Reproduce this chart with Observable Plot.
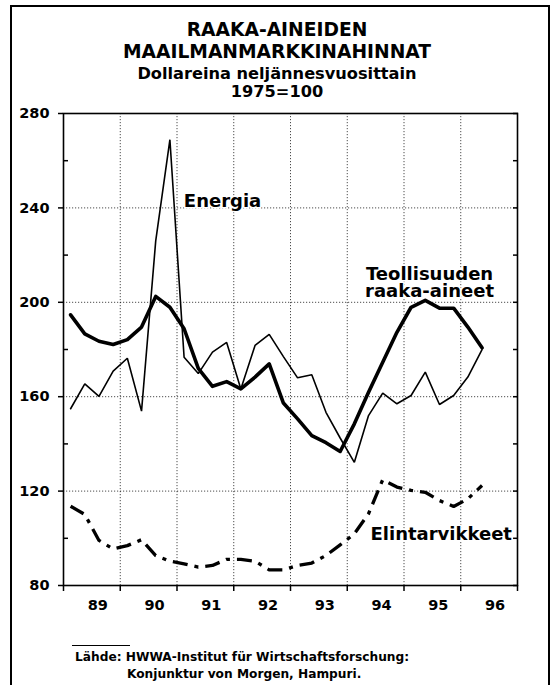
<!DOCTYPE html>
<html><head><meta charset="utf-8">
<script src="https://cdn.jsdelivr.net/npm/d3@7"></script>
<script src="https://cdn.jsdelivr.net/npm/@observablehq/plot@0.6"></script>
<style>
body{margin:0;background:#fff;font-family:"DejaVu Sans",sans-serif;font-weight:bold;color:#000}
#wrap{position:relative;width:558px;height:685px;overflow:hidden;background:#fff}
#border{position:absolute;left:10px;top:5px;width:540px;height:720px;border:2px solid #000;box-sizing:border-box;z-index:5;pointer-events:none}
.t{position:absolute;left:0;width:554px;text-align:center;white-space:nowrap}
.c{position:absolute;line-height:1;white-space:nowrap;font-size:12.2px}
#chart{position:absolute;left:0;top:100px}
#rule{position:absolute;left:72px;top:645px;width:58px;border-top:1.5px solid #000}
</style></head><body>
<div id="wrap">
<div class="t" style="top:19.4px;font-size:18.7px;line-height:22px">RAAKA-AINEIDEN<br>MAAILMANMARKKINAHINNAT</div>
<div class="t" style="top:65.3px;font-size:16.2px;line-height:18px">Dollareina neljännesvuosittain<br>1975=100</div>
<div id="chart"></div>
<div id="rule"></div>
<div class="c" style="left:75px;top:651px">Lähde: HWWA-Institut für Wirtschaftsforschung:</div>
<div class="c" style="left:127px;top:668px">Konjunktur von Morgen, Hampuri.</div>
<div id="border"></div>
</div>
<script>
const quarters = ["1989Q1","1989Q2","1989Q3","1989Q4","1990Q1","1990Q2","1990Q3","1990Q4",
  "1991Q1","1991Q2","1991Q3","1991Q4","1992Q1","1992Q2","1992Q3","1992Q4",
  "1993Q1","1993Q2","1993Q3","1993Q4","1994Q1","1994Q2","1994Q3","1994Q4",
  "1995Q1","1995Q2","1995Q3","1995Q4","1996Q1","1996Q2"];
const energia = [154.9,165.4,160.1,170.8,176.3,153.9,226,268.9,176.7,169.8,178.9,183,163.3,181.7,186.4,177,168,169.3,153.4,142.5,132.2,152,161.5,157,160.5,170.4,156.7,160.5,168.3,179.9];
const teollisuus = [194.7,186.6,183.5,182.1,184.2,189.5,202.5,197.9,188.8,172,164.4,166.4,163.3,168.3,173.9,157.3,150.6,143.5,140.5,136.8,148.5,161.9,174.6,187.3,197.9,200.8,197.5,197.5,189.5,180.7];
const elintarvikkeet = [113.6,110.1,99.1,95.5,96.9,99.4,92.7,90.3,89.2,87.8,88.5,91.1,91.1,90.3,86.6,86.6,88.5,89.5,92.7,97.2,101.9,110.4,124.8,121.7,120.3,119.5,116,113.5,116.7,122.4];
const yearLabels = ["89","90","91","92","93","94","95","96"];
const yTicks = [80,120,160,200,240,280];
const yMinor = [100,140,180,220,260];
const yAll = [80,100,120,140,160,180,200,220,240,260,280];
const gridY = [120,160,200,240];
const centeredLabels = [
  {label:"Energia", q:11.21, v:242.8},
  {label:"Teollisuuden\nraaka-aineet", q:25.8, v:208.1}
];
const startLabels = [
  {label:"Elintarvikkeet", q:21.64, v:101.7}
];

const pos = s => (+s.slice(0,4) - 1989) * 4 + (+s.slice(5) - 1) + 0.5;
const rows = (vals) => quarters.map((q,i) => ({x: pos(q), y: vals[i]}));
const yearBounds = d3.range(yearLabels.length + 1).map(i => i * 4);
const innerBounds = yearBounds.slice(1, -1);

const chart = Plot.plot({
  width: 558, height: 520,
  marginLeft: 63, marginRight: 41, marginTop: 13, marginBottom: 35,
  x: {domain: [0, 32], axis: null},
  y: {domain: [80, 280], axis: null},
  style: {fontFamily: "DejaVu Sans", fontWeight: "bold", fontSize: "14.5px", color: "#000", background: "transparent", overflow: "visible"},
  marks: [
    Plot.ruleY(gridY, {stroke: "#000", strokeOpacity: 0.7, strokeDasharray: "1.2,1.8", strokeWidth: 1}),
    Plot.ruleX(innerBounds, {stroke: "#000", strokeOpacity: 0.7, strokeDasharray: "1.2,1.8", strokeWidth: 1}),
    Plot.axisY(yTicks, {anchor: "left", tickSize: 5, tickPadding: 9, label: null, strokeWidth: 1.5, fontSize: 14.5}),
    Plot.axisY(yMinor, {anchor: "left", tickSize: 5, dx: 5, tickFormat: () => "", label: null, strokeWidth: 1.5}),
    Plot.axisY(yAll, {anchor: "right", tickSize: 5, dx: -5, tickFormat: () => "", label: null, strokeWidth: 1.5}),
    Plot.axisX(yearBounds, {anchor: "bottom", tickSize: 6, tickFormat: () => "", label: null, strokeWidth: 1.5}),
    Plot.text(yearLabels, {x: (d, i) => i * 4 + 2, frameAnchor: "bottom", dy: 24, dx: 6, text: d => d, fontSize: 14.5}),
    Plot.frame({stroke: "#000", strokeWidth: 1.6}),
    Plot.line(rows(elintarvikkeet), {x: "x", y: "y", stroke: "#000", strokeWidth: 3.3, strokeDasharray: "15,7,4,7", strokeLinecap: "butt"}),
    Plot.line(rows(energia), {x: "x", y: "y", stroke: "#000", strokeWidth: 1.6, strokeLinejoin: "miter"}),
    Plot.line(rows(teollisuus), {x: "x", y: "y", stroke: "#000", strokeWidth: 3.6, strokeLinejoin: "round"}),
    Plot.text(centeredLabels, {x: "q", y: "v", text: "label", textAnchor: "middle", lineHeight: 0.94, fontSize: 18, fontWeight: "bold", fill: "#000", stroke: "#fff", strokeWidth: 3}),
    Plot.text(startLabels, {x: "q", y: "v", text: "label", textAnchor: "start", fontSize: 18, fontWeight: "bold", fill: "#000", stroke: "#fff", strokeWidth: 3})
  ]
});
document.getElementById("chart").appendChild(chart);
</script>
</body></html>
